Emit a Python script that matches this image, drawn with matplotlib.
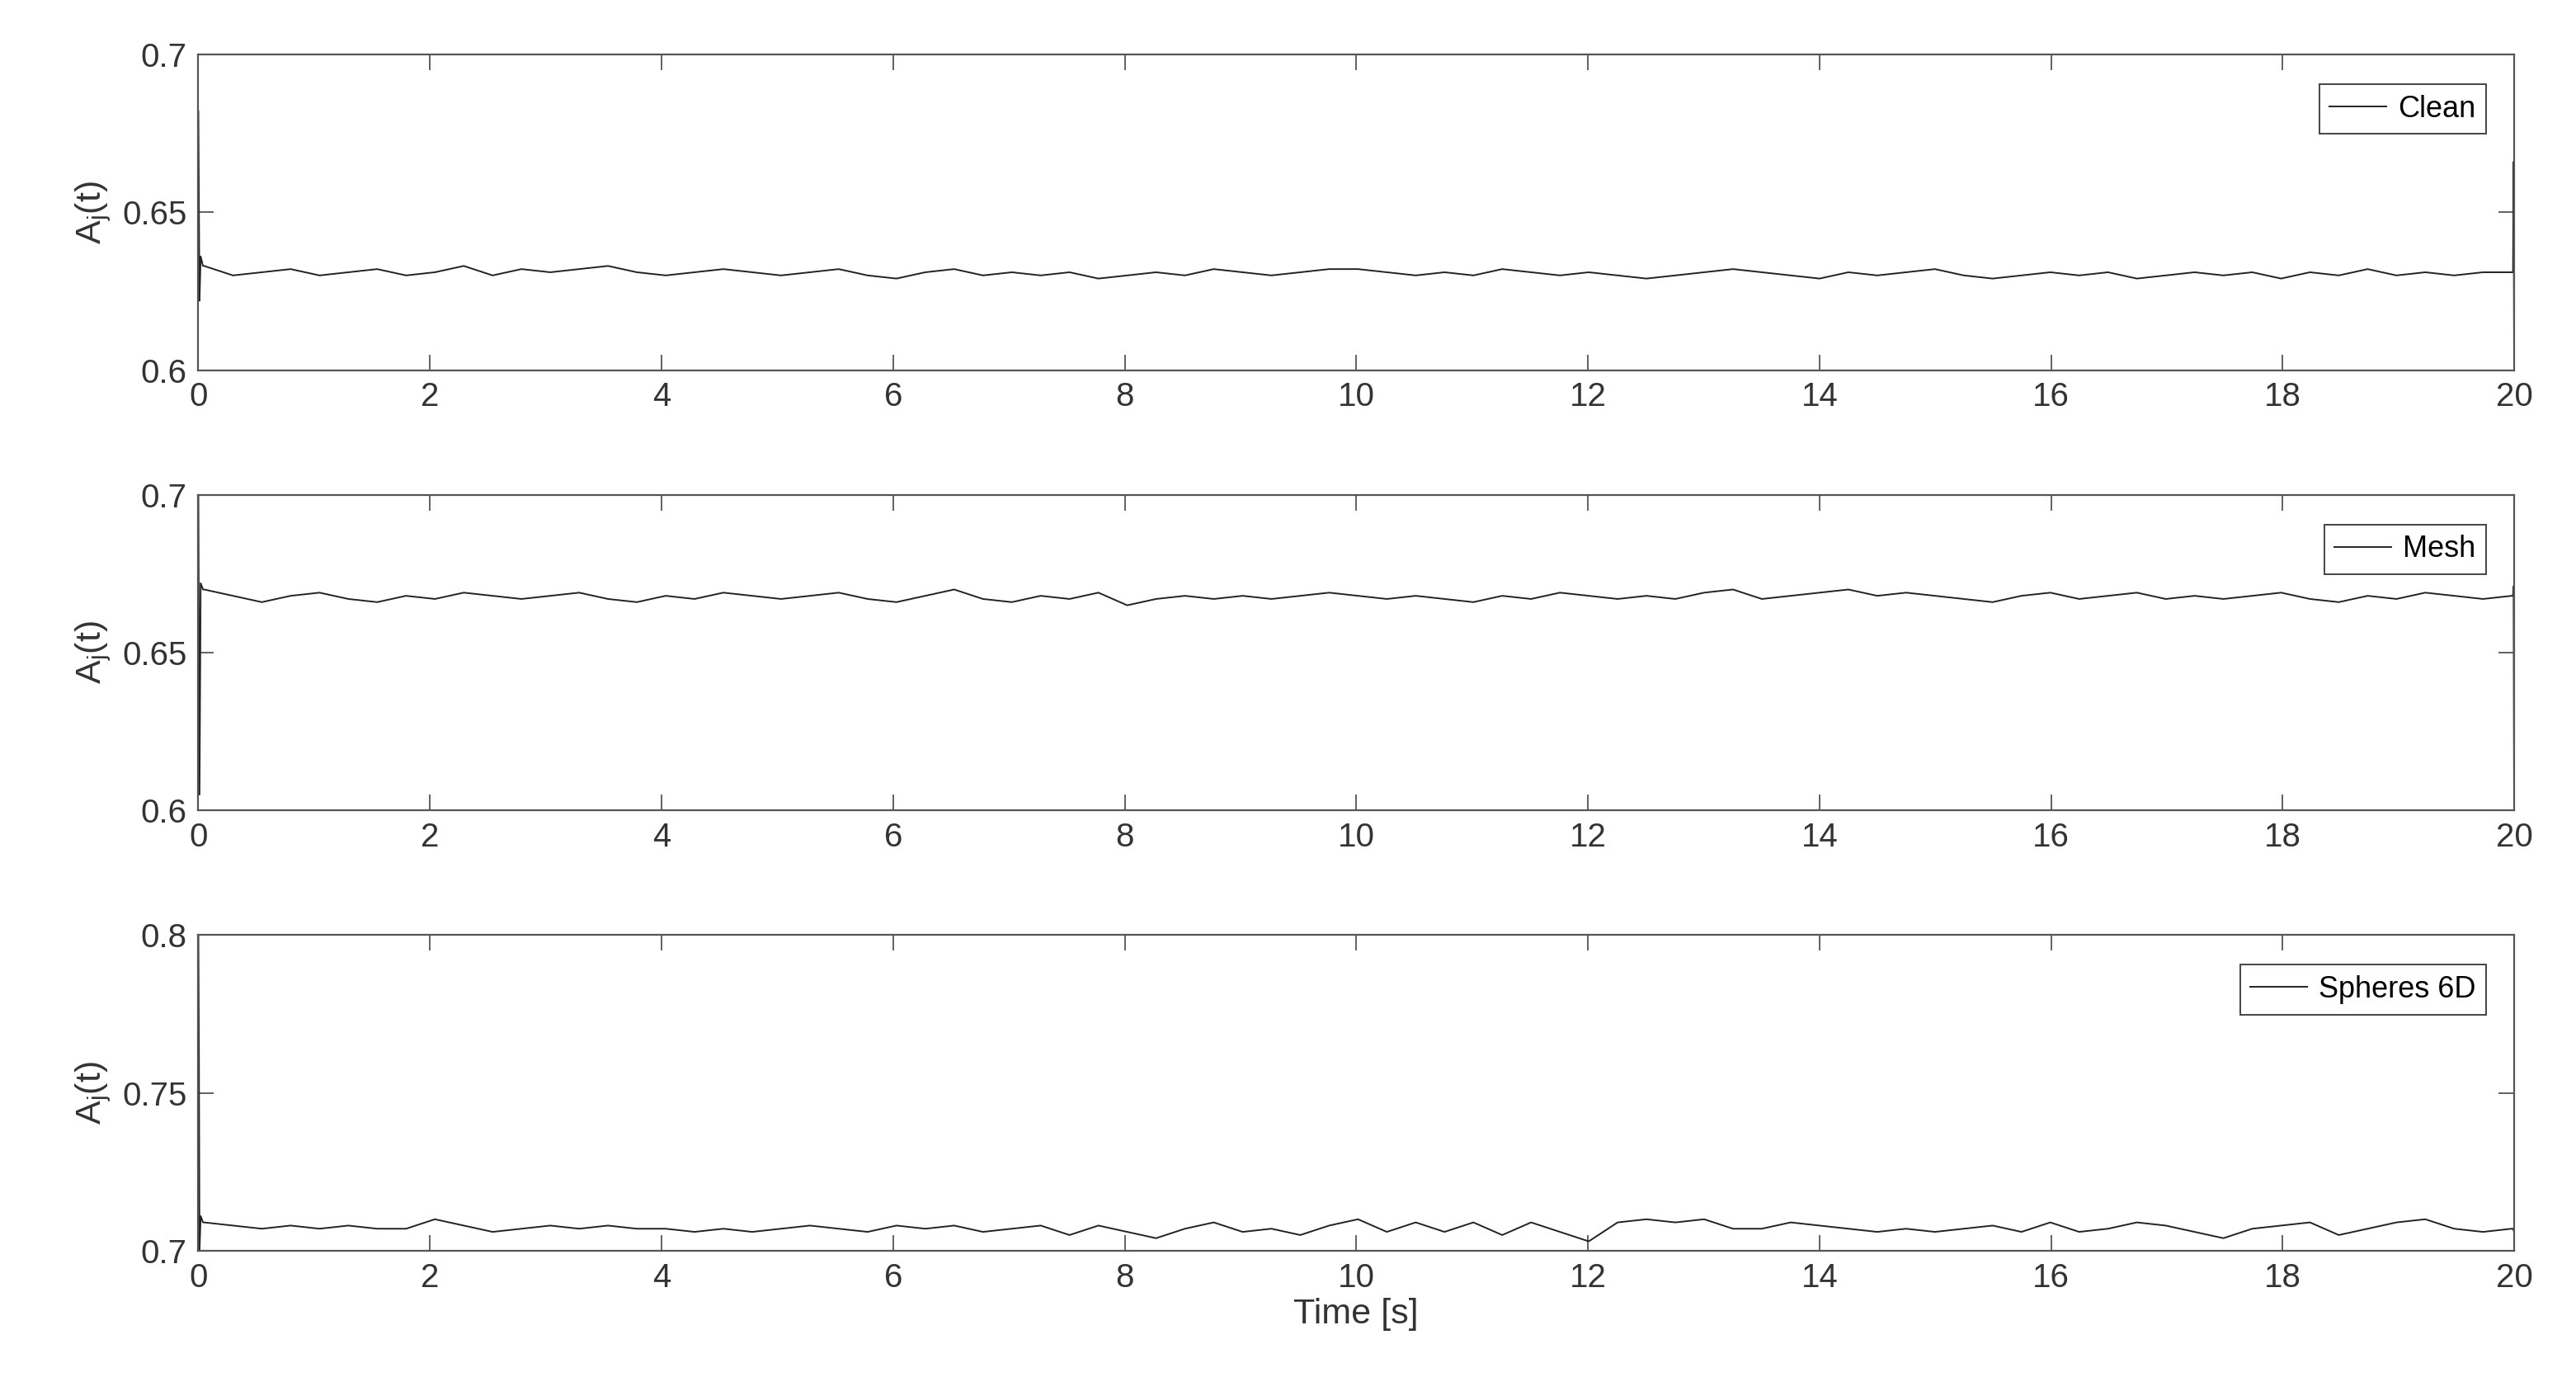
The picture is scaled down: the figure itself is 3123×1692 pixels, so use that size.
import numpy as np
import matplotlib.pyplot as plt

# A_j(t) read every 0.25 s, t = 0 .. 20
clean = [0.633, 0.630, 0.631, 0.632, 0.630, 0.631, 0.632, 0.630, 0.631, 0.633,
         0.630, 0.632, 0.631, 0.632, 0.633, 0.631, 0.630, 0.631, 0.632, 0.631,
         0.630, 0.631, 0.632, 0.630, 0.629, 0.631, 0.632, 0.630, 0.631, 0.630,
         0.631, 0.629, 0.630, 0.631, 0.630, 0.632, 0.631, 0.630, 0.631, 0.632,
         0.632, 0.631, 0.630, 0.631, 0.630, 0.632, 0.631, 0.630, 0.631, 0.630,
         0.629, 0.630, 0.631, 0.632, 0.631, 0.630, 0.629, 0.631, 0.630, 0.631,
         0.632, 0.630, 0.629, 0.630, 0.631, 0.630, 0.631, 0.629, 0.630, 0.631,
         0.630, 0.631, 0.629, 0.631, 0.630, 0.632, 0.630, 0.631, 0.630, 0.631,
         0.631]
mesh = [0.670, 0.668, 0.666, 0.668, 0.669, 0.667, 0.666, 0.668, 0.667, 0.669,
        0.668, 0.667, 0.668, 0.669, 0.667, 0.666, 0.668, 0.667, 0.669, 0.668,
        0.667, 0.668, 0.669, 0.667, 0.666, 0.668, 0.670, 0.667, 0.666, 0.668,
        0.667, 0.669, 0.665, 0.667, 0.668, 0.667, 0.668, 0.667, 0.668, 0.669,
        0.668, 0.667, 0.668, 0.667, 0.666, 0.668, 0.667, 0.669, 0.668, 0.667,
        0.668, 0.667, 0.669, 0.670, 0.667, 0.668, 0.669, 0.670, 0.668, 0.669,
        0.668, 0.667, 0.666, 0.668, 0.669, 0.667, 0.668, 0.669, 0.667, 0.668,
        0.667, 0.668, 0.669, 0.667, 0.666, 0.668, 0.667, 0.669, 0.668, 0.667,
        0.668]
spheres = [0.709, 0.708, 0.707, 0.708, 0.707, 0.708, 0.707, 0.707, 0.710, 0.708,
           0.706, 0.707, 0.708, 0.707, 0.708, 0.707, 0.707, 0.706, 0.707, 0.706,
           0.707, 0.708, 0.707, 0.706, 0.708, 0.707, 0.708, 0.706, 0.707, 0.708,
           0.705, 0.708, 0.706, 0.704, 0.707, 0.709, 0.706, 0.707, 0.705, 0.708,
           0.710, 0.706, 0.709, 0.706, 0.709, 0.705, 0.709, 0.706, 0.703, 0.709,
           0.710, 0.709, 0.710, 0.707, 0.707, 0.709, 0.708, 0.707, 0.706, 0.707,
           0.706, 0.707, 0.708, 0.706, 0.709, 0.706, 0.707, 0.709, 0.708, 0.706,
           0.704, 0.707, 0.708, 0.709, 0.705, 0.707, 0.709, 0.710, 0.707, 0.706,
           0.707]
# start-up and end transients (time, value)
clean_start = [(0.0, 0.682), (0.01, 0.622), (0.02, 0.636), (0.04, 0.633)]
clean_end = [(19.99, 0.631), (19.995, 0.666), (20.0, 0.600)]
mesh_start = [(0.0, 0.700), (0.01, 0.605), (0.02, 0.672), (0.04, 0.670)]
mesh_end = [(19.99, 0.668), (19.995, 0.671), (20.0, 0.600)]
sph_start = [(0.0, 0.800), (0.005, 0.763), (0.01, 0.700), (0.02, 0.711), (0.04, 0.709)]
sph_end = [(19.99, 0.707), (20.0, 0.706)]

series = [
    ("Clean", clean, clean_start, clean_end, (0.6, 0.7), [0.6, 0.65, 0.7]),
    ("Mesh", mesh, mesh_start, mesh_end, (0.6, 0.7), [0.6, 0.65, 0.7]),
    ("Spheres 6D", spheres, sph_start, sph_end, (0.7, 0.8), [0.7, 0.75, 0.8]),
]

plt.rcParams['font.family'] = ['Liberation Sans', 'DejaVu Sans']
fig, axes = plt.subplots(3, 1, figsize=(31.23, 16.92), dpi=100)
fig.subplots_adjust(left=0.077, right=0.976, top=0.961, bottom=0.104, hspace=0.395)

for ax, (name, vals, start, end, ylim, yticks) in zip(axes, series):
    t = np.linspace(0.05, 19.98, len(vals))
    ts = [p[0] for p in start] + list(t) + [p[0] for p in end]
    vs = [p[1] for p in start] + list(vals) + [p[1] for p in end]
    ax.plot(ts, vs, color="#222222", lw=1.4, label=name)
    ax.set_xlim(0, 20)
    ax.set_ylim(*ylim)
    ax.set_xticks(range(0, 21, 2))
    ax.set_yticks(yticks)
    ax.set_yticklabels([f"{v:g}" for v in yticks])
    ax.tick_params(direction="in", length=14, width=1.3, labelsize=29,
                   top=True, right=True, color="#555555", labelcolor="#333333", pad=10)
    for s in ax.spines.values():
        s.set_color("#555555")
        s.set_linewidth(1.6)
    ax.set_ylabel("A$_\\mathregular{j}$(t)", fontsize=31, color="#333333", labelpad=8)
    leg = ax.legend(loc="upper right", fontsize=26, fancybox=False, framealpha=1,
                    edgecolor="#444444", handlelength=1.9, handletextpad=0.4,
                    borderpad=0.35, borderaxespad=0, bbox_to_anchor=(0.988, 0.906))
    leg.get_frame().set_linewidth(1.4)

axes[-1].set_xlabel("Time [s]", fontsize=31, color="#333333")
fig.savefig("out.png", dpi=100, facecolor="white")
